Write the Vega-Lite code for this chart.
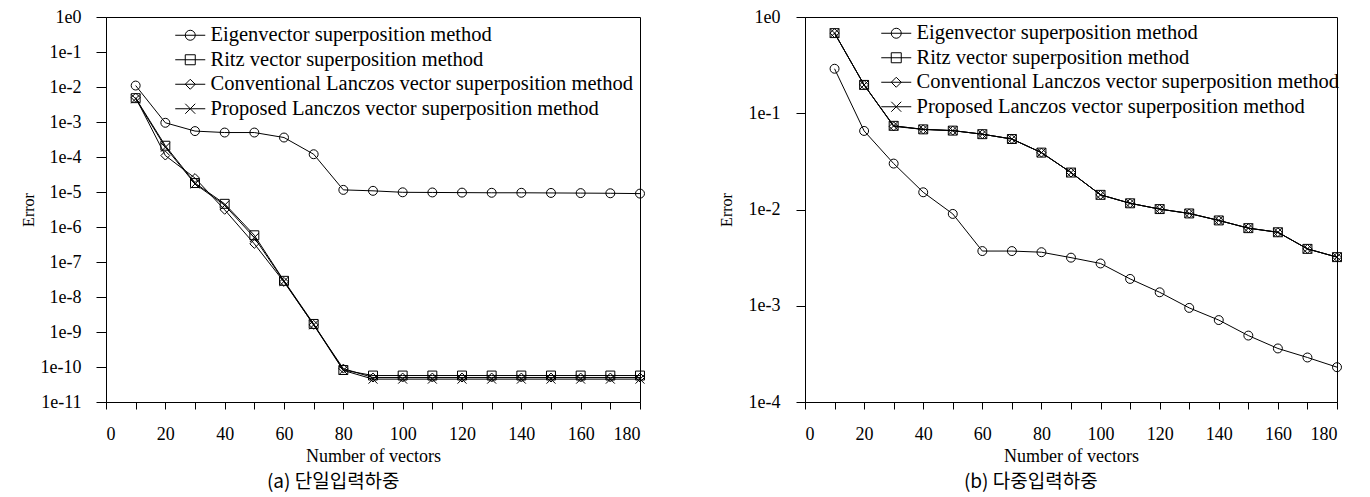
{
"$schema": "https://vega.github.io/schema/vega-lite/v6.json",
"background": "white",
"padding": {"left": 19, "top": 7, "right": 5, "bottom": 0},
"config": {
  "font": "Liberation Serif",
  "view": {"stroke": "black", "strokeWidth": 1},
  "axis": {"grid": false, "domainColor": "black", "tickColor": "black", "labelColor": "black", "titleColor": "black", "labelFont": "Liberation Serif", "titleFont": "Liberation Serif", "labelFontSize": 18, "titleFontSize": 18, "titleFontWeight": "normal"},
  "legend": {"title": null, "orient": "none", "padding": 0, "labelOffset": 10, "symbolSize": 100, "symbolStrokeWidth": 1, "symbolStrokeColor": "black", "symbolFillColor": "transparent", "labelFontSize": 20.5, "labelFont": "Liberation Serif", "labelColor": "black", "labelLimit": 0, "rowPadding": 3.5},
  "title": {"font": "Noto Sans CJK KR", "fontSize": 19, "fontWeight": "normal", "color": "black"},
  "concat": {"spacing": 70}
},
"datasets": {"d": [
{"p":"a","s":"E","x":10,"y":0.011},{"p":"a","s":"E","x":20,"y":0.00095},{"p":"a","s":"E","x":30,"y":0.00055},{"p":"a","s":"E","x":40,"y":0.0005},{"p":"a","s":"E","x":50,"y":0.0005},{"p":"a","s":"E","x":60,"y":0.00036},{"p":"a","s":"E","x":70,"y":0.00012},{"p":"a","s":"E","x":80,"y":1.15e-5},{"p":"a","s":"E","x":90,"y":1.08e-5},{"p":"a","s":"E","x":100,"y":9.8e-6},{"p":"a","s":"E","x":110,"y":9.7e-6},{"p":"a","s":"E","x":120,"y":9.6e-6},{"p":"a","s":"E","x":130,"y":9.5e-6},{"p":"a","s":"E","x":140,"y":9.5e-6},{"p":"a","s":"E","x":150,"y":9.4e-6},{"p":"a","s":"E","x":160,"y":9.3e-6},{"p":"a","s":"E","x":170,"y":9.2e-6},{"p":"a","s":"E","x":180,"y":9.0e-6},
{"p":"a","s":"R","x":10,"y":0.0048},{"p":"a","s":"R","x":20,"y":0.00021},{"p":"a","s":"R","x":30,"y":1.8e-5},{"p":"a","s":"R","x":40,"y":4.6e-6},{"p":"a","s":"R","x":50,"y":5.8e-7},{"p":"a","s":"R","x":60,"y":2.9e-8},{"p":"a","s":"R","x":70,"y":1.7e-9},{"p":"a","s":"R","x":80,"y":8.2e-11},{"p":"a","s":"R","x":90,"y":5.7e-11},{"p":"a","s":"R","x":100,"y":5.7e-11},{"p":"a","s":"R","x":110,"y":5.7e-11},{"p":"a","s":"R","x":120,"y":5.7e-11},{"p":"a","s":"R","x":130,"y":5.7e-11},{"p":"a","s":"R","x":140,"y":5.7e-11},{"p":"a","s":"R","x":150,"y":5.7e-11},{"p":"a","s":"R","x":160,"y":5.7e-11},{"p":"a","s":"R","x":170,"y":5.7e-11},{"p":"a","s":"R","x":180,"y":5.7e-11},
{"p":"a","s":"C","x":10,"y":0.005},{"p":"a","s":"C","x":20,"y":0.00011},{"p":"a","s":"C","x":30,"y":2.5e-5},{"p":"a","s":"C","x":40,"y":3.1e-6},{"p":"a","s":"C","x":50,"y":3.3e-7},{"p":"a","s":"C","x":60,"y":2.7e-8},{"p":"a","s":"C","x":70,"y":1.6e-9},{"p":"a","s":"C","x":80,"y":9.0e-11},{"p":"a","s":"C","x":90,"y":5.0e-11},{"p":"a","s":"C","x":100,"y":5.0e-11},{"p":"a","s":"C","x":110,"y":5.0e-11},{"p":"a","s":"C","x":120,"y":5.0e-11},{"p":"a","s":"C","x":130,"y":5.0e-11},{"p":"a","s":"C","x":140,"y":5.0e-11},{"p":"a","s":"C","x":150,"y":5.0e-11},{"p":"a","s":"C","x":160,"y":5.0e-11},{"p":"a","s":"C","x":170,"y":5.0e-11},{"p":"a","s":"C","x":180,"y":5.0e-11},
{"p":"a","s":"P","x":10,"y":0.0046},{"p":"a","s":"P","x":20,"y":0.00019},{"p":"a","s":"P","x":30,"y":1.7e-5},{"p":"a","s":"P","x":40,"y":4.2e-6},{"p":"a","s":"P","x":50,"y":5.0e-7},{"p":"a","s":"P","x":60,"y":2.8e-8},{"p":"a","s":"P","x":70,"y":1.6e-9},{"p":"a","s":"P","x":80,"y":8.0e-11},{"p":"a","s":"P","x":90,"y":4.5e-11},{"p":"a","s":"P","x":100,"y":4.5e-11},{"p":"a","s":"P","x":110,"y":4.5e-11},{"p":"a","s":"P","x":120,"y":4.5e-11},{"p":"a","s":"P","x":130,"y":4.5e-11},{"p":"a","s":"P","x":140,"y":4.5e-11},{"p":"a","s":"P","x":150,"y":4.5e-11},{"p":"a","s":"P","x":160,"y":4.5e-11},{"p":"a","s":"P","x":170,"y":4.5e-11},{"p":"a","s":"P","x":180,"y":4.5e-11},
{"p":"b","s":"E","x":10,"y":0.29},{"p":"b","s":"E","x":20,"y":0.0655},{"p":"b","s":"E","x":30,"y":0.030},{"p":"b","s":"E","x":40,"y":0.0151},{"p":"b","s":"E","x":50,"y":0.0090},{"p":"b","s":"E","x":60,"y":0.0037},{"p":"b","s":"E","x":70,"y":0.0037},{"p":"b","s":"E","x":80,"y":0.0036},{"p":"b","s":"E","x":90,"y":0.00316},{"p":"b","s":"E","x":100,"y":0.00275},{"p":"b","s":"E","x":110,"y":0.0019},{"p":"b","s":"E","x":120,"y":0.00138},{"p":"b","s":"E","x":130,"y":0.00095},{"p":"b","s":"E","x":140,"y":0.00071},{"p":"b","s":"E","x":150,"y":0.00049},{"p":"b","s":"E","x":160,"y":0.00036},{"p":"b","s":"E","x":170,"y":0.00029},{"p":"b","s":"E","x":180,"y":0.00023},
{"p":"b","s":"R","x":10,"y":0.68},{"p":"b","s":"R","x":20,"y":0.197},{"p":"b","s":"R","x":30,"y":0.074},{"p":"b","s":"R","x":40,"y":0.068},{"p":"b","s":"R","x":50,"y":0.066},{"p":"b","s":"R","x":60,"y":0.0606},{"p":"b","s":"R","x":70,"y":0.054},{"p":"b","s":"R","x":80,"y":0.039},{"p":"b","s":"R","x":90,"y":0.0242},{"p":"b","s":"R","x":100,"y":0.0142},{"p":"b","s":"R","x":110,"y":0.0116},{"p":"b","s":"R","x":120,"y":0.0101},{"p":"b","s":"R","x":130,"y":0.0091},{"p":"b","s":"R","x":140,"y":0.0077},{"p":"b","s":"R","x":150,"y":0.0064},{"p":"b","s":"R","x":160,"y":0.0058},{"p":"b","s":"R","x":170,"y":0.0039},{"p":"b","s":"R","x":180,"y":0.0032},
{"p":"b","s":"C","x":10,"y":0.68},{"p":"b","s":"C","x":20,"y":0.197},{"p":"b","s":"C","x":30,"y":0.073},{"p":"b","s":"C","x":40,"y":0.068},{"p":"b","s":"C","x":50,"y":0.066},{"p":"b","s":"C","x":60,"y":0.0606},{"p":"b","s":"C","x":70,"y":0.054},{"p":"b","s":"C","x":80,"y":0.039},{"p":"b","s":"C","x":90,"y":0.0242},{"p":"b","s":"C","x":100,"y":0.0142},{"p":"b","s":"C","x":110,"y":0.0116},{"p":"b","s":"C","x":120,"y":0.0101},{"p":"b","s":"C","x":130,"y":0.0091},{"p":"b","s":"C","x":140,"y":0.0077},{"p":"b","s":"C","x":150,"y":0.0064},{"p":"b","s":"C","x":160,"y":0.0058},{"p":"b","s":"C","x":170,"y":0.0039},{"p":"b","s":"C","x":180,"y":0.0032},
{"p":"b","s":"P","x":10,"y":0.68},{"p":"b","s":"P","x":20,"y":0.197},{"p":"b","s":"P","x":30,"y":0.074},{"p":"b","s":"P","x":40,"y":0.068},{"p":"b","s":"P","x":50,"y":0.066},{"p":"b","s":"P","x":60,"y":0.0606},{"p":"b","s":"P","x":70,"y":0.054},{"p":"b","s":"P","x":80,"y":0.039},{"p":"b","s":"P","x":90,"y":0.0242},{"p":"b","s":"P","x":100,"y":0.0142},{"p":"b","s":"P","x":110,"y":0.0116},{"p":"b","s":"P","x":120,"y":0.0101},{"p":"b","s":"P","x":130,"y":0.0091},{"p":"b","s":"P","x":140,"y":0.0077},{"p":"b","s":"P","x":150,"y":0.0064},{"p":"b","s":"P","x":160,"y":0.0058},{"p":"b","s":"P","x":170,"y":0.0039},{"p":"b","s":"P","x":180,"y":0.0032}
]},
"resolve": {"scale": {"x": "independent", "y": "independent", "shape": "independent"}, "legend": {"shape": "independent"}},
"hconcat": [
{
  "width": 534, "height": 385,
  "title": {"text": "(a) 단일입력하중", "orient": "bottom", "anchor": "middle", "frame": "bounds", "offset": 8},
  "data": {"name": "d"},
  "transform": [{"filter": "datum.p == 'a'"}],
  "encoding": {
    "x": {"field": "x", "type": "quantitative", "scale": {"domain": [0, 180], "nice": false}, "axis": {"title": "Number of vectors", "values": [0,10,20,30,40,50,60,70,80,90,100,110,120,130,140,150,160,170,180], "labelExpr": "datum.value % 20 == 0 ? datum.label : ''", "tickSize": 7, "labelPadding": 16, "titlePadding": 4}},
    "y": {"field": "y", "type": "quantitative", "scale": {"type": "log", "domain": [1e-11, 1], "nice": false}, "axis": {"title": "Error", "titleFontSize": 16, "values": [1,0.1,0.01,0.001,0.0001,1e-5,1e-6,1e-7,1e-8,1e-9,1e-10,1e-11], "labelExpr": "'1e' + round(log(datum.value)/LN10)", "tickSize": 10, "labelPadding": 15, "titlePadding": 4}}
  },
  "layer": [
    {"mark": {"type": "line", "color": "black", "strokeWidth": 1}, "encoding": {"detail": {"field": "s"}, "order": {"field": "x"}}},
    {"mark": {"type": "point", "filled": false, "color": "black", "strokeWidth": 1, "size": 80, "opacity": 1},
     "encoding": {"shape": {"field": "s", "type": "nominal", "legend": null,
       "scale": {"domain": ["E","R","C","P"], "range": ["circle","square","diamond","M-1,-1L1,1M1,-1L-1,1"]}}}},
    {"transform": [{"filter": "datum.x < 0"}],
     "mark": {"type": "point", "filled": false, "color": "black", "strokeWidth": 1, "opacity": 1},
     "encoding": {"shape": {"field": "s", "type": "nominal",
       "scale": {"domain": ["E","R","C","P"], "range": ["M-3,0H3M1,0A1,1,0,1,1,-1,0A1,1,0,1,1,1,0", "M-3,0H3M-1,-1H1V1H-1Z", "M-3,0H3M0,-1L1,0L0,1L-1,0Z", "M-3,0H3M-1,-1L1,1M1,-1L-1,1"]},
       "legend": {"legendX": 74, "legendY": 8,
         "labelExpr": "datum.value == 'E' ? 'Eigenvector superposition method' : datum.value == 'R' ? 'Ritz vector superposition method' : datum.value == 'C' ? 'Conventional Lanczos vector superposition method' : 'Proposed Lanczos vector superposition method'"}}}}
  ],
  "resolve": {"scale": {"shape": "independent"}}
},
{
  "width": 532, "height": 385,
  "title": {"text": "(b) 다중입력하중", "orient": "bottom", "anchor": "middle", "frame": "bounds", "offset": 8},
  "data": {"name": "d"},
  "transform": [{"filter": "datum.p == 'b'"}],
  "encoding": {
    "x": {"field": "x", "type": "quantitative", "scale": {"domain": [0, 180], "nice": false}, "axis": {"title": "Number of vectors", "values": [0,10,20,30,40,50,60,70,80,90,100,110,120,130,140,150,160,170,180], "labelExpr": "datum.value % 20 == 0 ? datum.label : ''", "tickSize": 7, "labelPadding": 16, "titlePadding": 4}},
    "y": {"field": "y", "type": "quantitative", "scale": {"type": "log", "domain": [0.0001, 1], "nice": false}, "axis": {"title": "Error", "titleFontSize": 16, "values": [1,0.1,0.01,0.001,0.0001], "labelExpr": "'1e' + round(log(datum.value)/LN10)", "tickSize": 9, "labelPadding": 16, "titlePadding": 14}}
  },
  "layer": [
    {"mark": {"type": "line", "color": "black", "strokeWidth": 1}, "encoding": {"detail": {"field": "s"}, "order": {"field": "x"}}},
    {"mark": {"type": "point", "filled": false, "color": "black", "strokeWidth": 1, "size": 80, "opacity": 1},
     "encoding": {"shape": {"field": "s", "type": "nominal", "legend": null,
       "scale": {"domain": ["E","R","C","P"], "range": ["circle","square","diamond","M-1,-1L1,1M1,-1L-1,1"]}}}},
    {"transform": [{"filter": "datum.x < 0"}],
     "mark": {"type": "point", "filled": false, "color": "black", "strokeWidth": 1, "opacity": 1},
     "encoding": {"shape": {"field": "s", "type": "nominal",
       "scale": {"domain": ["E","R","C","P"], "range": ["M-3,0H3M1,0A1,1,0,1,1,-1,0A1,1,0,1,1,1,0", "M-3,0H3M-1,-1H1V1H-1Z", "M-3,0H3M0,-1L1,0L0,1L-1,0Z", "M-3,0H3M-1,-1L1,1M1,-1L-1,1"]},
       "legend": {"legendX": 81, "legendY": 6,
         "labelExpr": "datum.value == 'E' ? 'Eigenvector superposition method' : datum.value == 'R' ? 'Ritz vector superposition method' : datum.value == 'C' ? 'Conventional Lanczos vector superposition method' : 'Proposed Lanczos vector superposition method'"}}}}
  ],
  "resolve": {"scale": {"shape": "independent"}}
}
]
}
